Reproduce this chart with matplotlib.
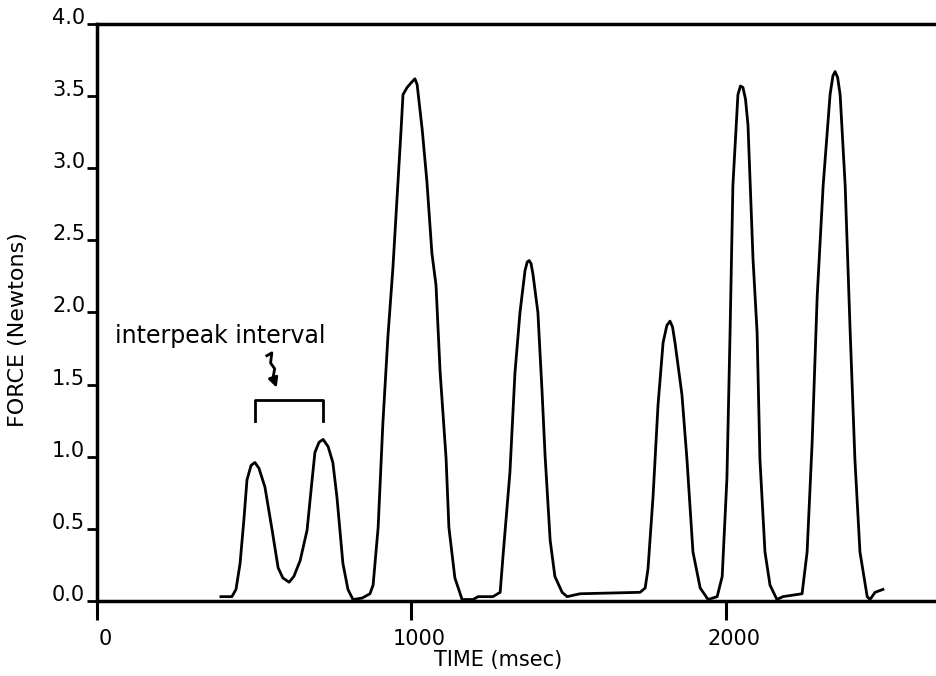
#----Load Packages----
import matplotlib
matplotlib.use("Agg")
import matplotlib.pyplot as plt
import matplotlib.transforms as mtransforms
import numpy as np

# force trace (time in msec, force in Newtons)
time_ms = [394, 429, 442, 455, 467, 477, 490, 502, 515, 534, 557, 576, 591, 611, 626,
           646, 668, 684, 693, 706, 719, 735, 750, 763, 782, 798, 814, 843, 868, 878,
           894, 909, 925, 941, 954, 967, 973, 986, 1002, 1011, 1018, 1034, 1049, 1065,
           1078, 1091, 1110, 1119, 1138, 1161, 1196, 1212, 1259, 1282, 1291, 1313, 1329,
           1345, 1361, 1368, 1374, 1380, 1386, 1402, 1415, 1425, 1441, 1456, 1479, 1495,
           1536, 1727, 1743, 1752, 1768, 1784, 1800, 1812, 1822, 1830, 1838, 1860, 1876,
           1895, 1918, 1943, 1972, 1988, 2003, 2013, 2022, 2038, 2046, 2054, 2062, 2070,
           2086, 2099, 2108, 2124, 2140, 2162, 2181, 2242, 2258, 2274, 2290, 2309, 2331,
           2340, 2347, 2355, 2363, 2379, 2395, 2410, 2426, 2449, 2458, 2474, 2499]
force_n = [0.03, 0.03, 0.08, 0.26, 0.56, 0.84, 0.94, 0.96, 0.92, 0.79, 0.49, 0.23, 0.16,
           0.13, 0.17, 0.28, 0.49, 0.84, 1.03, 1.10, 1.12, 1.07, 0.96, 0.72, 0.26, 0.08,
           0.01, 0.02, 0.05, 0.11, 0.51, 1.23, 1.83, 2.31, 2.79, 3.27, 3.51, 3.56, 3.60,
           3.62, 3.58, 3.27, 2.91, 2.41, 2.19, 1.59, 0.99, 0.51, 0.16, 0.01, 0.01, 0.03,
           0.03, 0.06, 0.31, 0.89, 1.58, 2.00, 2.29, 2.35, 2.36, 2.34, 2.27, 2.00, 1.46,
           1.00, 0.42, 0.17, 0.06, 0.03, 0.05, 0.06, 0.09, 0.22, 0.72, 1.36, 1.79, 1.91,
           1.94, 1.90, 1.79, 1.43, 0.98, 0.34, 0.09, 0.01, 0.03, 0.17, 0.85, 1.86, 2.88,
           3.51, 3.57, 3.56, 3.48, 3.30, 2.37, 1.86, 0.98, 0.34, 0.11, 0.01, 0.03, 0.05,
           0.34, 1.10, 2.11, 2.88, 3.51, 3.64, 3.67, 3.63, 3.51, 2.88, 1.86, 0.98, 0.34,
           0.03, 0.01, 0.06, 0.08]

x_ticks = [0, 1000, 2000]
y_ticks = [0.0, 0.5, 1.0, 1.5, 2.0, 2.5, 3.0, 3.5, 4.0]
y_tick_labels = ["0.0", "0.5", "1.0", "1.5", "2.0", "2.5", "3.0", "3.5", "4.0"]

fig = plt.figure(figsize=(9.37, 6.76), dpi=100)
ax = fig.add_axes([0.1035, 0.111, 0.8965, 0.8535])

t = np.array(time_ms)
f = np.array(force_n)
ax.plot(t, f, color="black", lw=2.0, solid_joinstyle="round", clip_on=False)

ax.set_xlim(0, 2671)
ax.set_ylim(0, 4.0)

# spines: left, bottom and top, thick
ax.spines["right"].set_visible(False)
for s in ["left", "bottom", "top"]:
    ax.spines[s].set_linewidth(2.5)

ax.set_xticks(x_ticks)
ax.set_xticklabels([str(v) for v in x_ticks], fontsize=15)
ax.set_yticks(y_ticks)
ax.set_yticklabels(y_tick_labels, fontsize=15)
ax.tick_params(axis="x", direction="out", length=14, width=2.2, pad=6)
ax.tick_params(axis="y", direction="out", length=7, width=2.0, pad=1.5)

# y labels sit on the tick (baseline), x labels shifted a bit right
for lbl in ax.get_yticklabels():
    lbl.set_verticalalignment("baseline")
shift = mtransforms.ScaledTranslation(8 / 100, 0, fig.dpi_scale_trans)
for lbl in ax.get_xticklabels():
    lbl.set_transform(lbl.get_transform() + shift)

fig.text(0.019, 0.512, "FORCE (Newtons)", rotation=90, ha="center", va="center", fontsize=16)
fig.text(0.532, 0.024, "TIME (msec)", ha="center", va="center", fontsize=15)

# interpeak interval annotation: bracket over the first two peaks
i1 = np.argmax(f[t < 600])
i2 = np.argmax(np.where((t > 600) & (t < 800), f, -1))
bx1, bx2 = t[i1], t[i2]
ax.plot([bx1, bx1, bx2, bx2], [1.25, 1.39, 1.39, 1.25], color="black", lw=2.0)

ax.text(57, 1.79, "interpeak interval", fontsize=17, ha="left", va="baseline")

# small squiggly arrow
wx = [540, 556, 552, 565, 560, 574]
wy = [1.70, 1.72, 1.65, 1.61, 1.55, 1.46]
ax.plot(wx[:-1], wy[:-1], color="black", lw=2.0)
ax.annotate("", xy=(wx[-1], wy[-1]), xytext=(wx[-2], wy[-2]),
            arrowprops=dict(arrowstyle="-|>", lw=2.0, color="black", mutation_scale=14))

fig.savefig("out.png", dpi=100)
